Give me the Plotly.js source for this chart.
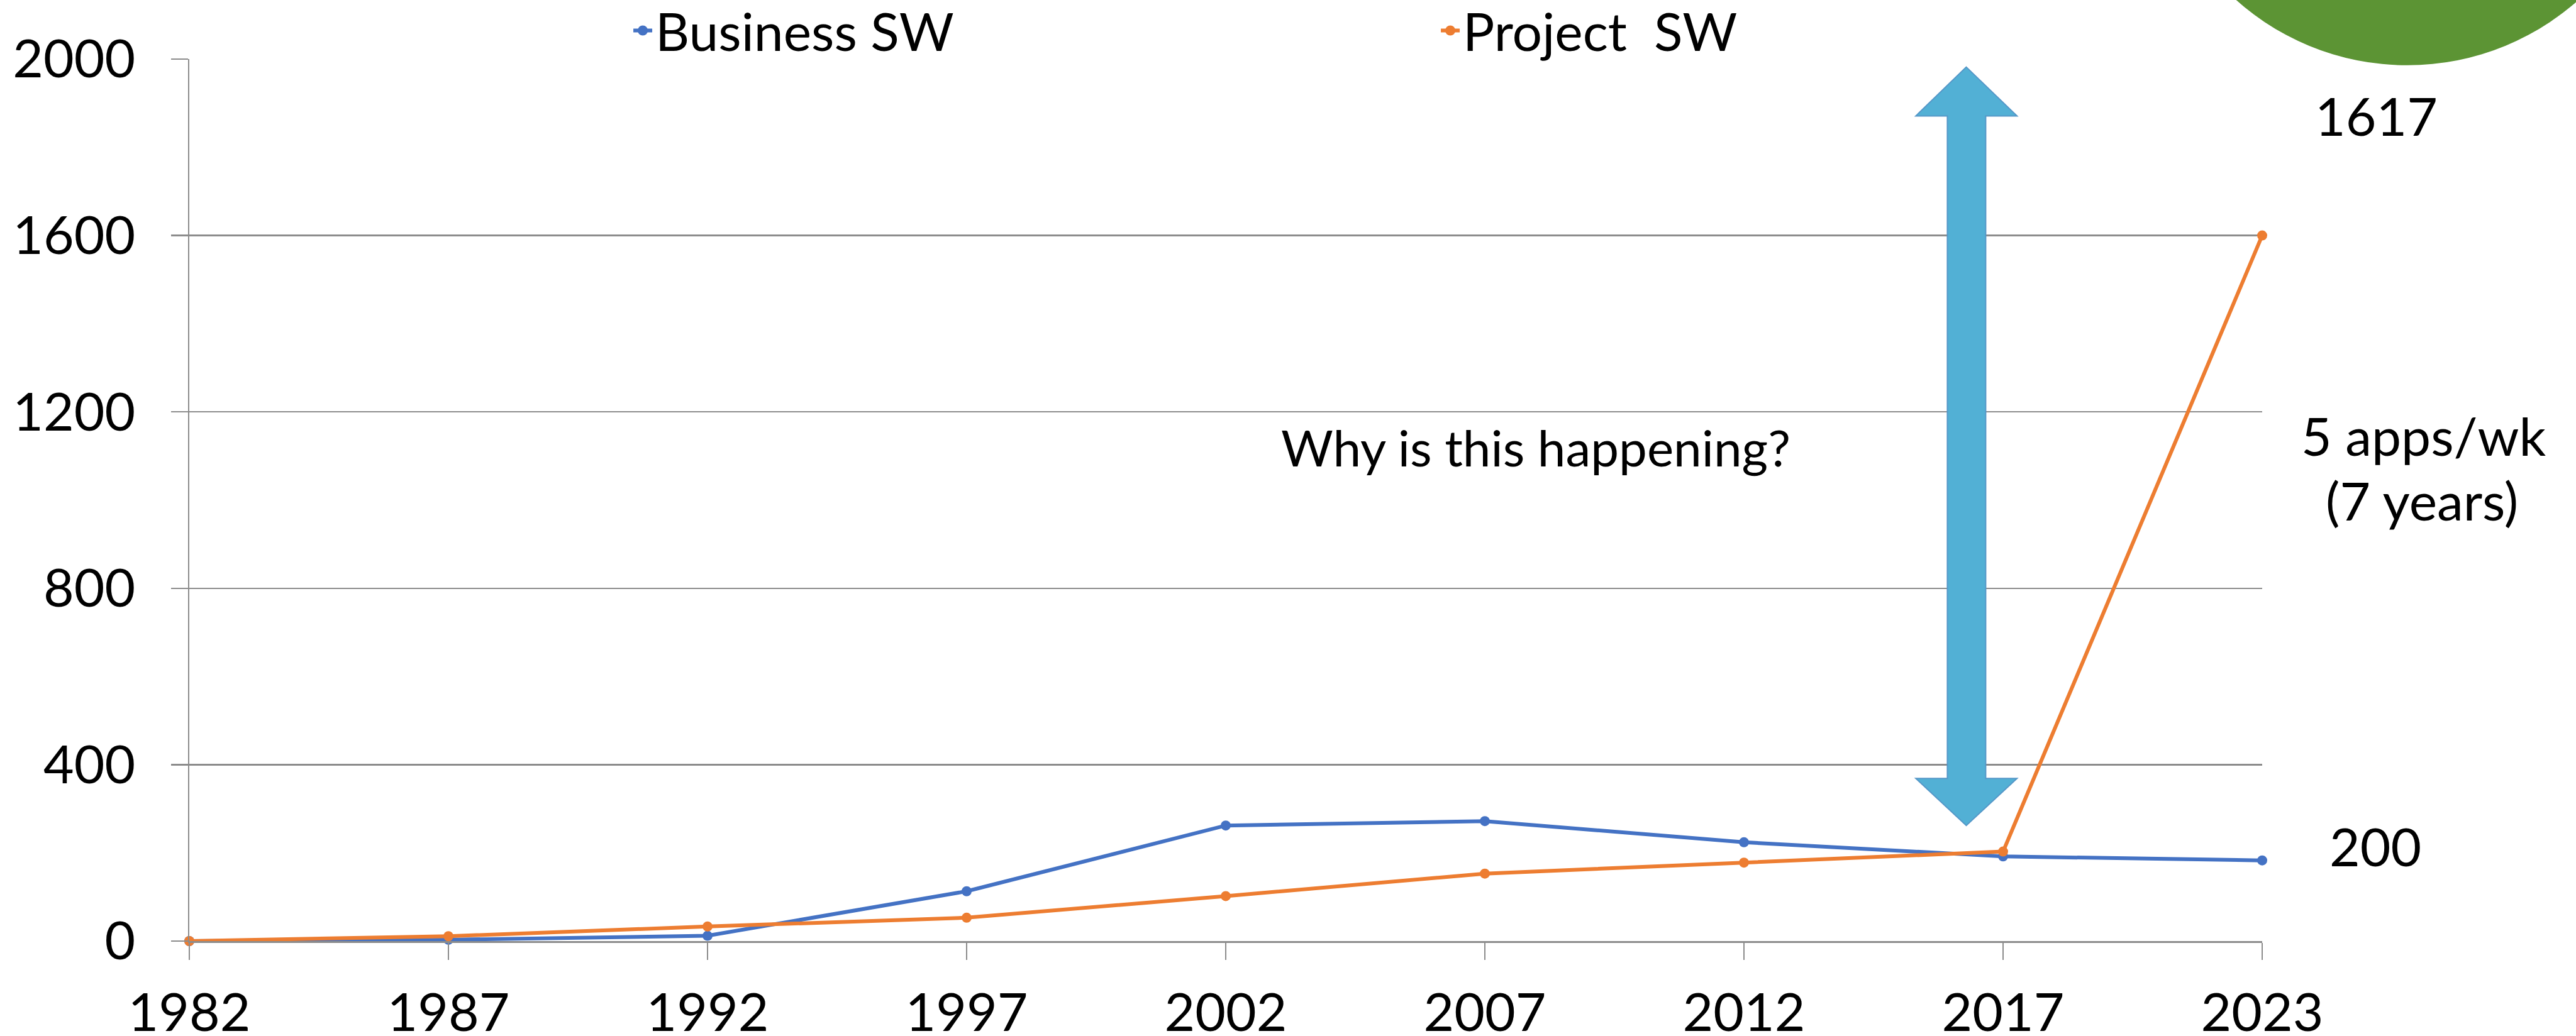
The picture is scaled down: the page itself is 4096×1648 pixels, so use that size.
<!DOCTYPE html>
<html>
<head>
<meta charset="utf-8">
<script src="https://cdn.plot.ly/plotly-3.0.1.min.js"></script>
<style>
  html, body { margin: 0; padding: 0; background: #ffffff; }
  #chart { width: 4096px; height: 1648px; }
</style>
</head>
<body>
<div id="chart"></div>
<script>
// ---- data ----
const years = ['1982', '1987', '1992', '1997', '2002', '2007', '2012', '2017', '2023'];
const businessSW = [0, 3, 12, 113, 262, 272, 224, 192, 183];
const projectSW  = [0, 11, 33, 53, 102, 153, 178, 203, 1600];
const seriesNames = ['Business SW', 'Project  SW'];
const yTicks = [0, 400, 800, 1200, 1600, 2000];

// decorative double arrow (category index, value)
const arrowX = [6.858, 7.054, 6.933, 6.933, 7.054, 6.858, 6.663, 6.785, 6.785, 6.663];
const arrowY = [1982, 1871, 1871, 369, 369, 262, 369, 369, 1871, 1871];

// ---- styles ----
const FONT = 'Lato, "Open Sans", sans-serif';
const FS = 84;
const GRID = '#8c8c8c';
const BLUE = '#4472C4';
const ORANGE = '#ED7D31';

const traces = [
  {
    x: years, y: businessSW, name: seriesNames[0], type: 'scatter', mode: 'lines+markers',
    line: { color: BLUE, width: 6 }, marker: { color: BLUE, size: 16, symbol: 'circle' },
    cliponaxis: false
  },
  {
    x: years, y: projectSW, name: seriesNames[1], type: 'scatter', mode: 'lines+markers',
    line: { color: ORANGE, width: 6 }, marker: { color: ORANGE, size: 16, symbol: 'circle' },
    cliponaxis: false
  }
];

const arrowPath = arrowX.map((x, i) => (i === 0 ? 'M' : 'L') + x + ',' + arrowY[i]).join(' ') + ' Z';

function px2x(px) { return (px - 301) / 3296; }
function px2y(py) { return (1497 - py) / 1403; }

const layout = {
  width: 4096, height: 1648,
  paper_bgcolor: '#ffffff', plot_bgcolor: '#ffffff',
  margin: { l: 301, r: 499, t: 94, b: 151, autoexpand: false },
  font: { family: FONT, size: FS, color: '#000000' },
  showlegend: true,
  legend: {
    orientation: 'h', x: 0.2127, xanchor: 'left', y: 1.076, yanchor: 'top',
    font: { family: FONT, size: FS, color: '#000000' },
    entrywidth: 1239, entrywidthmode: 'pixels',
    bgcolor: 'rgba(0,0,0,0)', borderwidth: 0, traceorder: 'normal'
  },
  xaxis: {
    type: 'category', range: [0, 8],
    showgrid: false, showline: true, linecolor: GRID, linewidth: 2.5,
    ticks: 'outside', ticklen: 27, tickwidth: 2, tickcolor: GRID,
    tickfont: { family: FONT, size: FS, color: '#000000' },
    ticklabelstandoff: 13, zeroline: false, fixedrange: true
  },
  yaxis: {
    range: [0, 2000], tickvals: yTicks, ticktext: yTicks.map(String),
    showgrid: true, gridcolor: GRID, gridwidth: 2.5,
    showline: true, linecolor: GRID, linewidth: 2,
    ticks: 'outside', ticklen: 27, tickwidth: 2.5, tickcolor: GRID,
    tickfont: { family: FONT, size: FS, color: '#000000' },
    ticklabelstandoff: 40, zeroline: false, fixedrange: true
  },
  shapes: [
    {
      type: 'path', xref: 'x', yref: 'y', path: arrowPath,
      fillcolor: '#52B0D5', line: { color: '#5597C8', width: 2 }, layer: 'above'
    },
    {
      type: 'circle', xref: 'paper', yref: 'paper',
      x0: 0.946, x1: 1.194, y0: 0.993, y1: 1.576,
      fillcolor: '#5C9434', line: { width: 0 }, layer: 'above'
    }
  ],
  annotations: [
    { text: 'Why is this happening?', xref: 'paper', yref: 'paper',
      x: px2x(2442), y: px2y(711), xanchor: 'center', yanchor: 'middle',
      showarrow: false, font: { family: FONT, size: 80, color: '#000000' } },
    { text: '1617', xref: 'paper', yref: 'paper',
      x: px2x(3778), y: px2y(183), xanchor: 'center', yanchor: 'middle',
      showarrow: false, font: { family: FONT, size: FS, color: '#000000' } },
    { text: '5 apps/wk', xref: 'paper', yref: 'paper',
      x: px2x(3853), y: px2y(692), xanchor: 'center', yanchor: 'middle',
      showarrow: false, font: { family: FONT, size: FS, color: '#000000' } },
    { text: '(7 years)', xref: 'paper', yref: 'paper',
      x: px2x(3851), y: px2y(795), xanchor: 'center', yanchor: 'middle',
      showarrow: false, font: { family: FONT, size: FS, color: '#000000' } },
    { text: '200', xref: 'paper', yref: 'paper',
      x: px2x(3777), y: px2y(1345), xanchor: 'center', yanchor: 'middle',
      showarrow: false, font: { family: FONT, size: FS, color: '#000000' } }
  ]
};

Plotly.newPlot('chart', traces, layout, { displayModeBar: false, staticPlot: true });
</script>
</body>
</html>
